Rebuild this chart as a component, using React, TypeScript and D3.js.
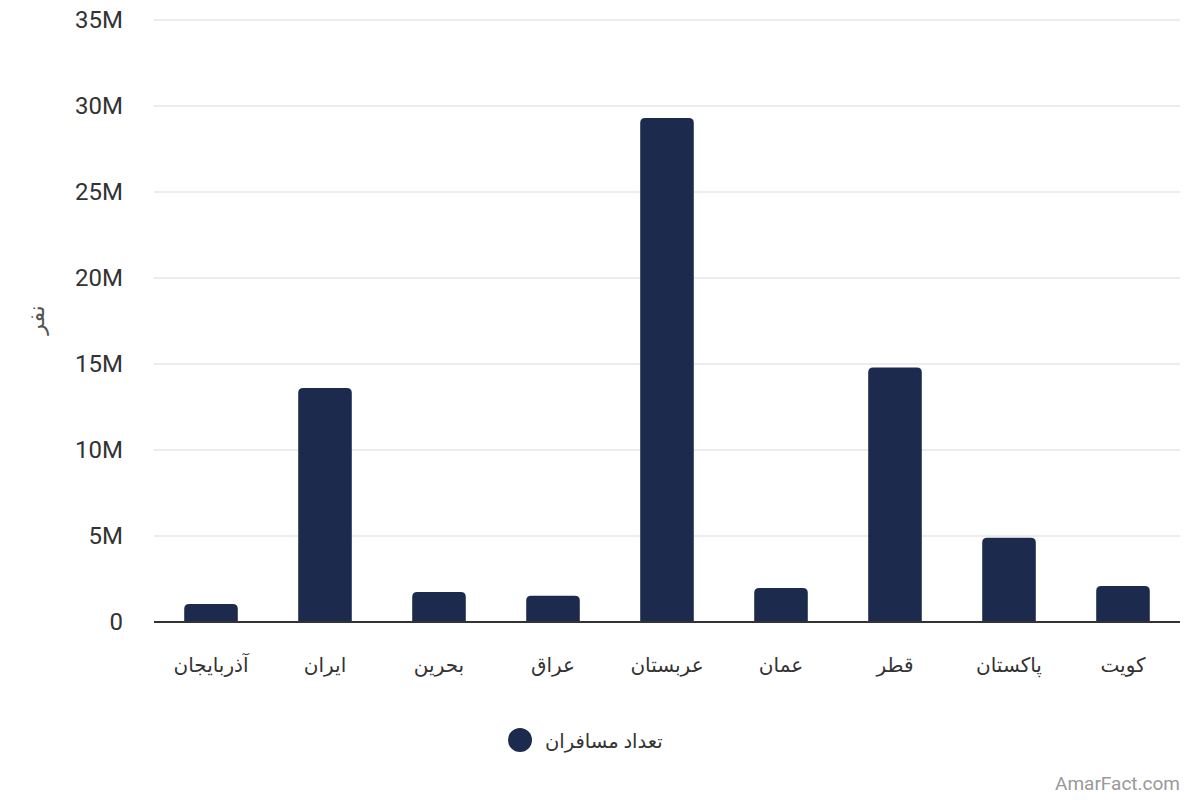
import React from "react";
import * as d3 from "d3";

const categories = ["آذربایجان", "ایران", "بحرین", "عراق", "عربستان", "عمان", "قطر", "پاکستان", "کویت"];
const passengers = [1.05e6, 13.6e6, 1.75e6, 1.52e6, 29.3e6, 1.98e6, 14.8e6, 4.9e6, 2.1e6];
const yTicks = [0, 5e6, 10e6, 15e6, 20e6, 25e6, 30e6, 35e6];
const seriesName = "تعداد مسافران";
const yAxisTitle = "نفر";
const watermark = "AmarFact.com";

const W = 1200;
const H = 800;
const margin = { left: 154, right: 20, top: 20, bottom: 178 };
const barColor = "#1c2a4e";
const font = "Roboto, 'DejaVu Sans', sans-serif";

function roundedTopRect(x: number, y: number, w: number, h: number, r: number) {
  const rr = Math.min(r, h, w / 2);
  return `M${x},${y + h}V${y + rr}Q${x},${y} ${x + rr},${y}H${x + w - rr}Q${x + w},${y} ${x + w},${y + rr}V${y + h}Z`;
}

export default function App() {
  const x = d3
    .scaleBand<string>()
    .domain(categories)
    .range([margin.left, W - margin.right])
    .paddingInner(0.53)
    .paddingOuter(0.265);
  const y = d3.scaleLinear().domain([0, 35e6]).range([H - margin.bottom, margin.top]);
  const fmt = (v: number) => (v === 0 ? "0" : `${v / 1e6}M`);

  return (
    <svg width={W} height={H} style={{ position: "absolute", left: 0, top: 0, background: "#fff" }}>
      {yTicks.map((t) => (
        <g key={t}>
          {t !== 0 && (
            <line x1={margin.left} x2={W - margin.right} y1={y(t)} y2={y(t)} stroke="#e6e6e6" strokeWidth={1.5} />
          )}
          <text x={123} y={y(t)} dy="0.35em" textAnchor="end" fontFamily={font} fontSize={24} fill="#333">
            {fmt(t)}
          </text>
        </g>
      ))}
      {categories.map((c, i) => {
        const bx = x(c)!;
        const bw = x.bandwidth();
        const top = y(passengers[i]);
        return (
          <path key={c} d={roundedTopRect(bx, top, bw, y(0) - top, 5)} fill={barColor} />
        );
      })}
      <line x1={margin.left} x2={W - margin.right} y1={y(0)} y2={y(0)} stroke="#333" strokeWidth={2} />
      {categories.map((c) => (
        <text
          key={c}
          x={x(c)! + x.bandwidth() / 2}
          y={672}
          textAnchor="middle"
          direction="rtl"
          fontFamily={font}
          fontSize={20}
          fill="#333"
        >
          {c}
        </text>
      ))}
      <text
        transform={`translate(44,320) rotate(-90)`}
        textAnchor="middle"
        fontFamily={font}
        fontSize={22}
        fill="#555"
      >
        {yAxisTitle}
      </text>
      <circle cx={520} cy={740} r={12} fill={barColor} />
      <text x={545} y={741} dy="0.35em" textAnchor="start" fontFamily={font} fontSize={19.5} fill="#333">
        {seriesName}
      </text>
      <text x={1180} y={790} textAnchor="end" fontFamily={font} fontSize={19} fill="#999">
        {watermark}
      </text>
    </svg>
  );
}
